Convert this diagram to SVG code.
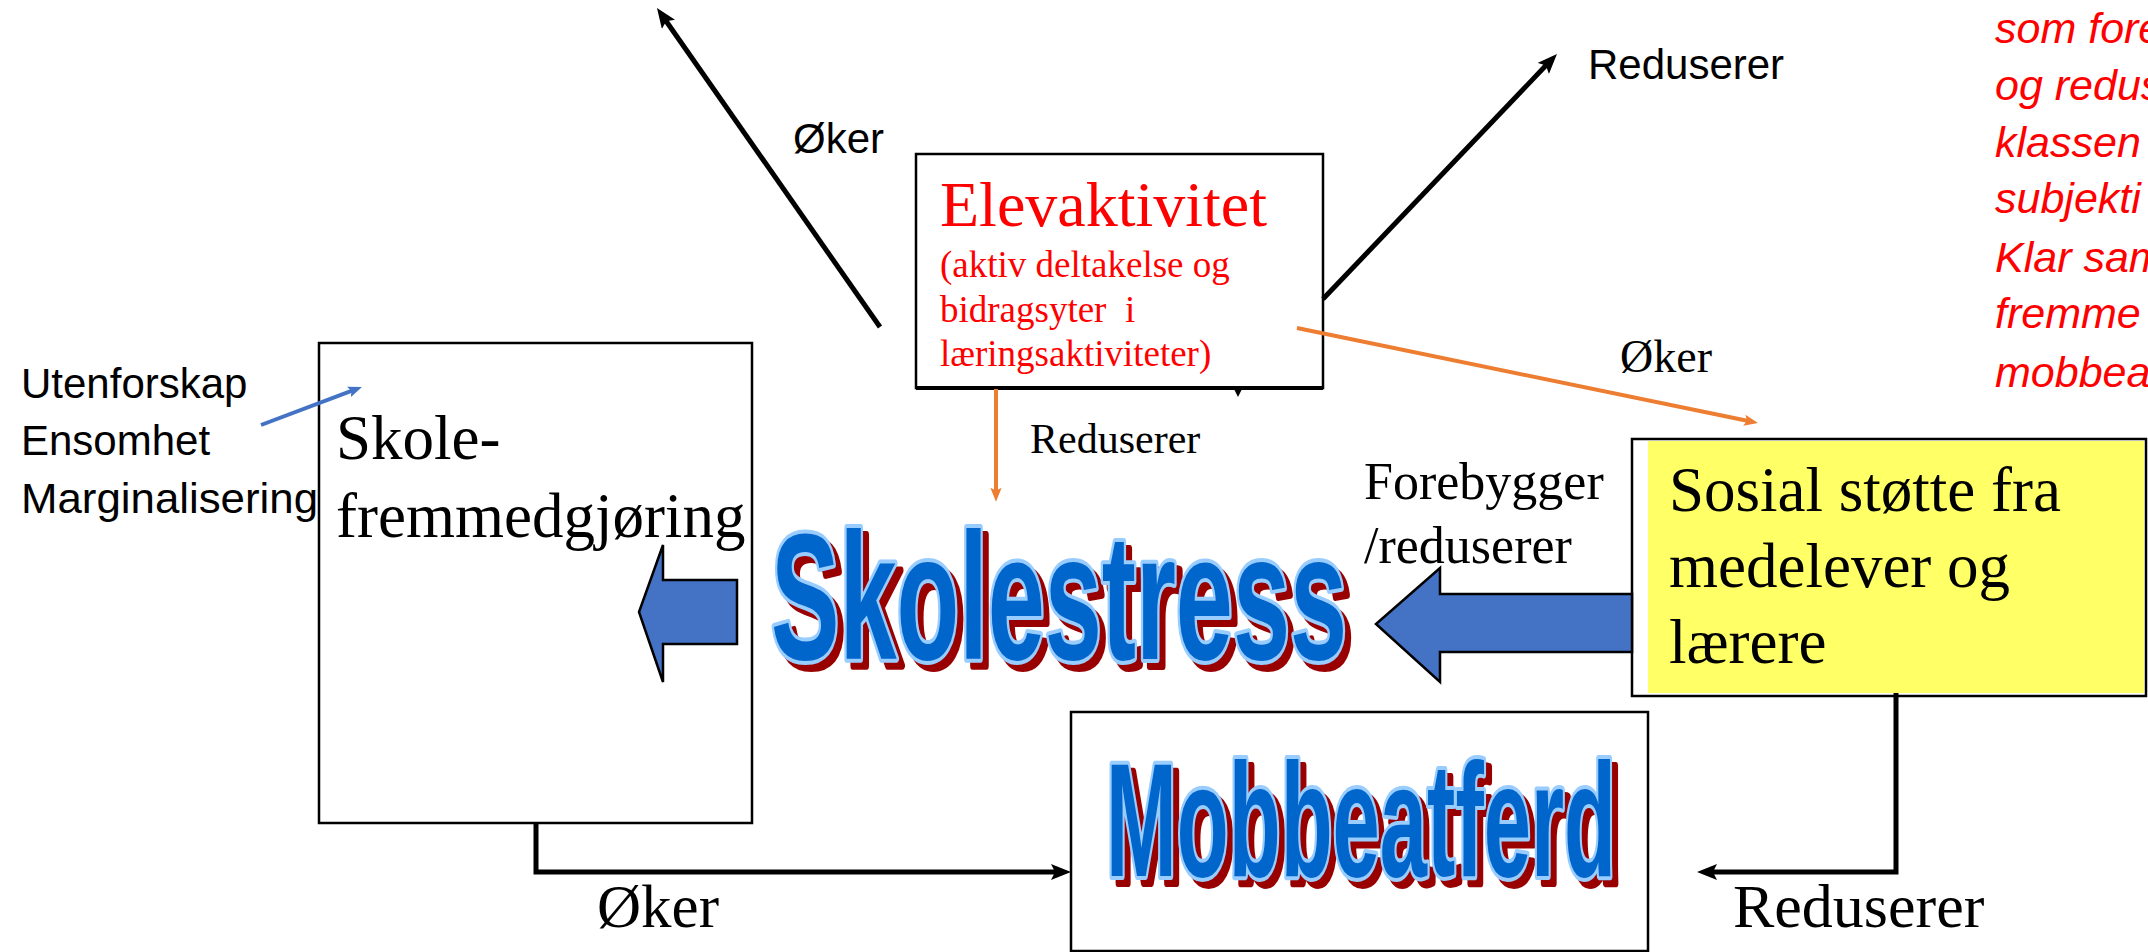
<svg xmlns="http://www.w3.org/2000/svg" width="2148" height="952" viewBox="0 0 2148 952">
<defs>
<style>
.box{fill:#fff;stroke:#000;stroke-width:2.5}
.ser{font-family:"Liberation Serif","Times New Roman",serif;fill:#000}
.sans{font-family:"Liberation Sans",Arial,sans-serif;fill:#000}
.ln{fill:none;stroke:#000;stroke-width:5}
.or{fill:none;stroke:#ED7D31;stroke-width:4}
.bl{fill:none;stroke:#4472C4;stroke-width:4}
.blk{fill:#4472C4;stroke:#000;stroke-width:2.5;stroke-linejoin:miter}
.wa{font-family:"Liberation Sans",Arial,sans-serif;font-weight:bold}
.wsh{fill:#990000;stroke:#990000;stroke-width:8;stroke-linejoin:round}
.wmain{fill:#0066CC;stroke:#99CCFF;stroke-width:8;stroke-linejoin:round;paint-order:stroke}
.red{font-family:"Liberation Sans",Arial,sans-serif;font-style:italic;fill:#FF0000;font-size:43px}
</style>
<marker id="arrB" viewBox="0 0 20 16" refX="6" refY="8" markerWidth="20" markerHeight="16" markerUnits="userSpaceOnUse" orient="auto"><path d="M0,0 L20,8 L0,16 L4,8 z" fill="#000"/></marker>
<marker id="arrO" viewBox="0 0 20 16" refX="6" refY="8" markerWidth="14" markerHeight="12" markerUnits="userSpaceOnUse" orient="auto"><path d="M0,0 L20,8 L0,16 L4,8 z" fill="#ED7D31"/></marker>
<marker id="arrL" viewBox="0 0 20 16" refX="6" refY="8" markerWidth="14" markerHeight="12" markerUnits="userSpaceOnUse" orient="auto"><path d="M0,0 L20,8 L0,16 L4,8 z" fill="#4472C4"/></marker>
</defs>
<rect width="2148" height="952" fill="#fff"/>

<g id="node-skole">
<rect class="box" x="319" y="343" width="433" height="480"/>
<text class="ser" font-size="63" x="336" y="459">Skole-</text>
<text class="ser" font-size="63" x="336" y="537">fremmedgjøring</text>
</g>

<g id="node-elevaktivitet">
<rect class="box" x="916" y="154" width="407" height="234"/>
<line x1="916" y1="388" x2="1323" y2="388" stroke="#000" stroke-width="4"/>
<text class="ser" font-size="64" x="940" y="226" style="fill:#FF0000">Elevaktivitet</text>
<g class="ser" font-size="37" style="fill:#FF0000">
<text x="940" y="277">(aktiv deltakelse og</text>
<text x="940" y="322" xml:space="preserve">bidragsyter  i</text>
<text x="940" y="366">læringsaktiviteter)</text>
</g>
</g>

<g id="node-utenforskap">
<text class="sans" font-size="42" x="21" y="398">Utenforskap</text>
<text class="sans" font-size="42" x="21" y="455">Ensomhet</text>
<text class="sans" font-size="42" x="21" y="513" textLength="297" lengthAdjust="spacingAndGlyphs">Marginalisering</text>
</g>

<g id="node-skolestress">
<text class="wa wsh" font-size="180" x="777" y="666" textLength="576" lengthAdjust="spacingAndGlyphs">Skolestress</text>
<text class="wa wmain" font-size="180" x="771" y="659" textLength="576" lengthAdjust="spacingAndGlyphs">Skolestress</text>
</g>

<g id="node-mobbeatferd">
<rect class="box" x="1071" y="712" width="577" height="239"/>
<text class="wa wsh" font-size="162" x="1112" y="883" textLength="510" lengthAdjust="spacingAndGlyphs">Mobbeatferd</text>
<text class="wa wmain" font-size="162" x="1106" y="876" textLength="510" lengthAdjust="spacingAndGlyphs">Mobbeatferd</text>
</g>

<g id="node-sosial">
<rect class="box" x="1632" y="439" width="514" height="257"/>
<rect x="1648" y="441" width="496" height="252" fill="#FFFF66"/>
<text class="ser" font-size="63" x="1669" y="511">Sosial støtte fra</text>
<text class="ser" font-size="63" x="1669" y="587">medelever og</text>
<text class="ser" font-size="63" x="1669" y="663">lærere</text>
</g>

<g id="connectors">
<line class="ln" x1="880" y1="327" x2="665" y2="19.5" marker-end="url(#arrB)"/>
<line class="ln" x1="1323" y1="299" x2="1547.3" y2="64.1" marker-end="url(#arrB)"/>
<path class="ln" d="M536 823 V872 H1057" marker-end="url(#arrB)"/>
<path class="ln" d="M1896 693 V872 H1711" marker-end="url(#arrB)"/>
<line class="or" x1="996" y1="389" x2="996" y2="492" marker-end="url(#arrO)"/>
<line class="or" x1="1297" y1="328" x2="1748.4" y2="421" marker-end="url(#arrO)"/>
<line class="bl" x1="261" y1="425" x2="352.8" y2="390.4" marker-end="url(#arrL)"/>
<polygon points="1234,389 1238,397 1242,389" fill="#000"/>
<polygon class="blk" points="737,580 663,580 663,545 639,612 663,682 663,644 737,644"/>
<polygon class="blk" points="1632,594 1440,594 1440,568 1376,624 1440,682 1440,652 1632,652"/>
</g>

<g id="labels">
<text class="sans" font-size="42" x="793" y="153">Øker</text>
<text class="sans" font-size="42" x="1588" y="79">Reduserer</text>
<text class="ser" font-size="46" x="1620" y="372">Øker</text>
<text class="ser" font-size="42" x="1030" y="453">Reduserer</text>
<text class="ser" font-size="52" x="1364" y="499">Forebygger</text>
<text class="ser" font-size="52" x="1364" y="563">/reduserer</text>
<text class="ser" font-size="61" x="597" y="927">Øker</text>
<text class="ser" font-size="62" x="1733" y="927">Reduserer</text>
</g>

<g id="node-note">
<text class="red" x="1995" y="43">som fore</text>
<text class="red" x="1995" y="100">og redus</text>
<text class="red" x="1995" y="157">klassen</text>
<text class="red" x="1995" y="213">subjekti</text>
<text class="red" x="1995" y="272">Klar sam</text>
<text class="red" x="1995" y="328">fremme</text>
<text class="red" x="1995" y="387">mobbea</text>
</g>
</svg>
